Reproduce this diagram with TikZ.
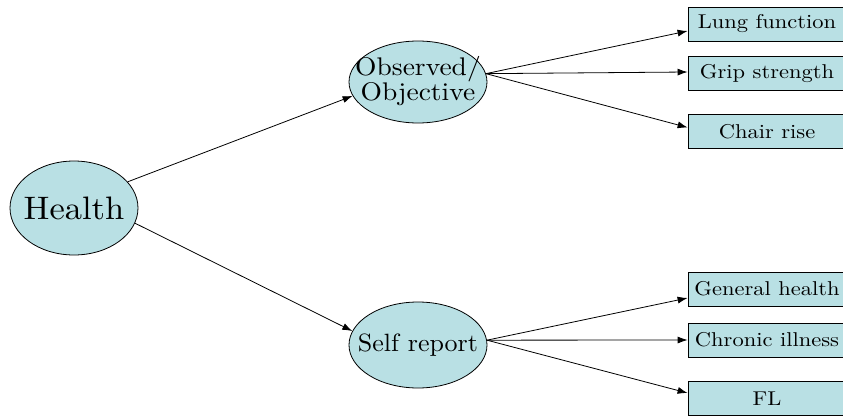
\documentclass[tikz,border=0pt]{standalone}
\usetikzlibrary{shapes.geometric,arrows.meta}
\definecolor{fillc}{RGB}{185,224,228}
\newcommand{\leaftext}[1]{\scalebox{2.25}[2.0]{#1}}
\begin{document}
\begin{tikzpicture}[x=1pt,y=-1pt,
  oval/.style={ellipse,draw=black,line width=0.8pt,fill=fillc,inner sep=0pt},
  leaf/.style={rectangle,draw=black,line width=0.8pt,fill=fillc,inner sep=0pt,minimum width=158pt,minimum height=34pt},
  arr/.style={line width=0.8pt,-{Latex[length=10pt,width=7pt]}}]
\useasboundingbox (0,0) rectangle (843,417);
\node[oval,minimum width=128pt,minimum height=94pt,label={[inner sep=0pt]center:\scalebox{3.45}[3.25]{Health}}] (health) at (74,208) {};
\node[oval,minimum width=138pt,minimum height=82pt,label={[inner sep=0pt]center:\scalebox{2.75}[2.55]{\def\arraystretch{0.82}\begin{tabular}{@{}c@{}}Observed/\\Objective\end{tabular}}}] (obs) at (418,82) {};
\node[oval,minimum width=138pt,minimum height=86pt,label={[inner sep=0pt]center:\scalebox{2.6}[2.5]{Self report}}] (self) at (418,345) {};
\node[leaf] (lung) at (767,24) {\leaftext{Lung function}};
\node[leaf] (grip) at (767,73.5) {\leaftext{Grip strength}};
\node[leaf] (chair) at (767,131.5) {\leaftext{Chair rise}};
\node[leaf] (gen) at (767,289) {\leaftext{General health}};
\node[leaf] (chron) at (767,340) {\leaftext{Chronic illness}};
\node[leaf] (fl) at (767,398.5) {\leaftext{FL}};
\draw[arr] (health.26) -- (obs.-168);
\draw[arr] (health.-14) -- (self.168);
\draw[arr] (obs.7) -- ([yshift=-7pt]lung.west);
\draw[arr] (obs.7) -- ([yshift=1.5pt]grip.west);
\draw[arr] (obs.7) -- ([yshift=4pt]chair.west);
\draw[arr] (self.4) -- ([yshift=-9pt]gen.west);
\draw[arr] (self.4) -- (chron.west);
\draw[arr] (self.4) -- ([yshift=5.5pt]fl.west);
\end{tikzpicture}
\end{document}
